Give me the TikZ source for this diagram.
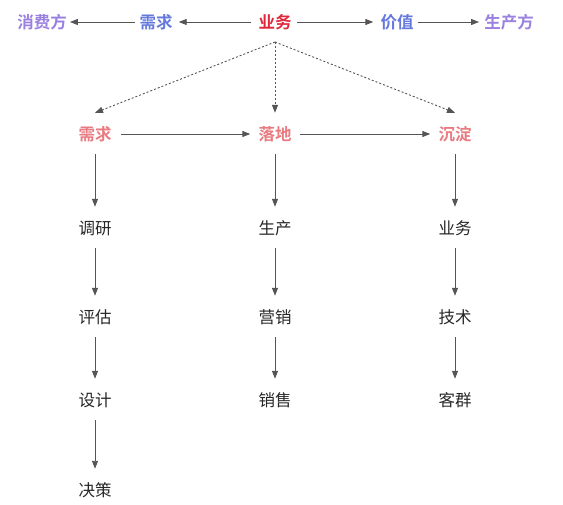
\documentclass[tikz,border=0pt]{standalone}
\usepackage{fontspec}
\setmainfont{Noto Sans CJK SC}
\newfontfamily\cjkbold{Noto Sans CJK SC Bold}
\usetikzlibrary{arrows.meta}
\definecolor{cpurple}{HTML}{9B80E0}
\definecolor{cblue}{HTML}{6478DC}
\definecolor{cred}{HTML}{E0283A}
\definecolor{cpink}{HTML}{E87A80}
\definecolor{carrow}{HTML}{555555}
\tikzset{
  lbl/.style={inner xsep=0pt, inner ysep=0pt, minimum height=16pt, font=\fontsize{16.5}{17}\selectfont\cjkbold},
  txt/.style={inner sep=0pt, minimum height=16pt, text=black!85, font=\fontsize{16.5}{17}\selectfont},
  arr/.style={draw=carrow, line width=0.9pt, -{Triangle[length=8pt,width=6pt]}},
  darr/.style={draw=carrow, line width=0.9pt, dash pattern=on 2pt off 2pt, -{Triangle[length=8pt,width=6pt]}},
}
\begin{document}
\begin{tikzpicture}[x=1pt,y=-1pt]
\useasboundingbox (0,0) rectangle (563,505);
% top row
\node[lbl, text=cpurple] (cons) at (42,22) {消费方};
\node[lbl, text=cblue] (need1) at (156,22) {需求};
\node[lbl, text=cred] (biz) at (275,22) {业务};
\node[lbl, text=cblue] (val) at (397,22) {价值};
\node[lbl, text=cpurple] (prod) at (509,22) {生产方};
\draw[arr, shorten <=4pt, shorten >=3pt] (need1) -- (cons);
\draw[arr, shorten <=7pt, shorten >=6pt] (biz) -- (need1);
\draw[arr, shorten <=5pt, shorten >=7pt] (biz) -- (val);
\draw[arr, shorten <=4pt, shorten >=5pt] (val) -- (prod);
% second row
\node[lbl, text=cpink] (xq) at (95,134) {需求};
\node[lbl, text=cpink] (ld) at (275,134) {落地};
\node[lbl, text=cpink] (cd) at (455,134) {沉淀};
\coordinate (apex) at (275,42);
\draw[darr] (apex) -- ([yshift=13pt]xq.north);
\draw[darr] (apex) -- ([yshift=13pt]ld.north);
\draw[darr] (apex) -- ([yshift=13pt]cd.north);
\draw[arr, shorten <=9pt, shorten >=8pt] (xq) -- (ld);
\draw[arr, shorten <=8pt, shorten >=8pt] (ld) -- (cd);
% columns
\node[txt] (a1) at (95,228) {调研};
\node[txt] (a2) at (95,317) {评估};
\node[txt] (a3) at (95,400) {设计};
\node[txt] (a4) at (95,490) {决策};
\node[txt] (b1) at (275,228) {生产};
\node[txt] (b2) at (275,317) {营销};
\node[txt] (b3) at (275,400) {销售};
\node[txt] (c1) at (455,228) {业务};
\node[txt] (c2) at (455,317) {技术};
\node[txt] (c3) at (455,400) {客群};
\tikzset{varr/.style={arr, shorten <=12pt, shorten >=13pt}}
\draw[varr] (xq) -- (a1);
\draw[varr] (a1) -- (a2);
\draw[varr] (a2) -- (a3);
\draw[varr] (a3) -- (a4);
\draw[varr] (ld) -- (b1);
\draw[varr] (b1) -- (b2);
\draw[varr] (b2) -- (b3);
\draw[varr] (cd) -- (c1);
\draw[varr] (c1) -- (c2);
\draw[varr] (c2) -- (c3);
\end{tikzpicture}
\end{document}
